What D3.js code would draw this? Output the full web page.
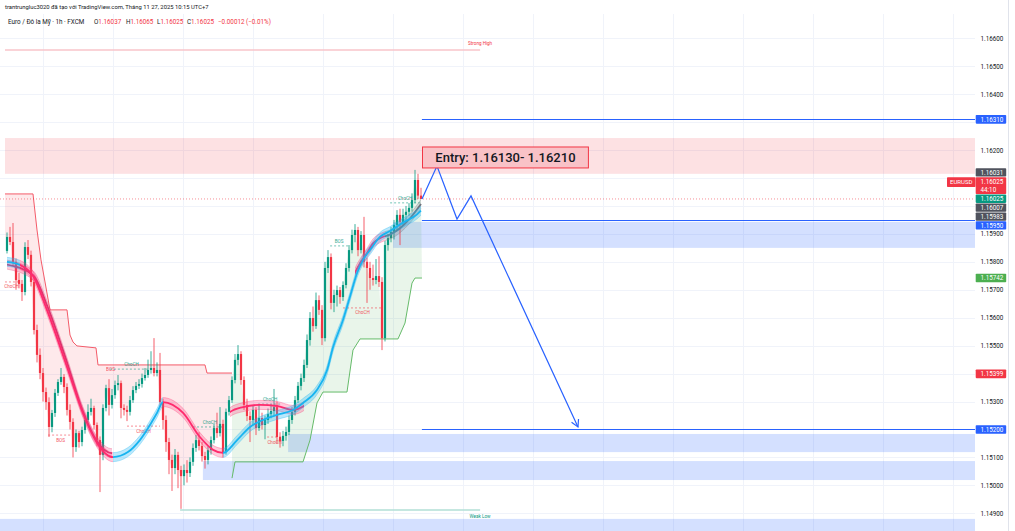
<!DOCTYPE html>
<html><head><meta charset="utf-8">
<script src="https://cdn.jsdelivr.net/npm/d3@7"></script>
<style>
body{margin:0;background:#fff;}
svg{display:block;font-family:Roboto,"Liberation Sans",Arial,sans-serif;}
text{white-space:pre;}
</style>
</head><body>
<svg id="c" width="1015" height="531"></svg>
<script>
// ---------------- DATA ----------------
const firstOpen = 1.15839;
const closes = [
1.15889,1.15871,1.15800,1.15735,1.15721,1.15692,1.15853,1.15825,1.15728,1.15556,
1.15467,1.15402,1.15334,1.15298,1.15209,1.15259,1.15331,1.15370,1.15388,1.15352,
1.15270,1.15227,1.15137,1.15187,1.15155,1.15198,1.15234,1.15263,1.15277,1.15216,
1.15162,1.15109,1.15277,1.15348,1.15288,1.15323,1.15359,1.15366,1.15277,1.15270,
1.15263,1.15305,1.15341,1.15356,1.15363,1.15384,1.15395,1.15413,1.15420,1.15402,
1.15413,1.15298,1.15234,1.15155,1.15091,1.15062,1.15109,1.15055,1.15033,1.15055,
1.15044,1.15084,1.15134,1.15162,1.15141,1.15105,1.15091,1.15126,1.15162,1.15205,
1.15187,1.15220,1.15119,1.15263,1.15305,1.15377,1.15449,1.15470,1.15377,1.15288,
1.15248,1.15234,1.15270,1.15205,1.15241,1.15216,1.15234,1.15255,1.15266,1.15280,
1.15173,1.15159,1.15177,1.15191,1.15234,1.15263,1.15305,1.15356,1.15384,1.15431,
1.15520,1.15599,1.15570,1.15663,1.15628,1.15527,1.15778,1.15817,1.15653,1.15681,
1.15699,1.15674,1.15717,1.15778,1.15842,1.15896,1.15914,1.15842,1.15896,1.15800,
1.15778,1.15742,1.15735,1.15749,1.15728,1.15527,1.15860,1.15885,1.15907,1.15932,
1.15968,1.15943,1.15968,1.15979,1.15993,1.16021,1.16093,1.16037,1.16025];
const highs = [
1.15905,1.15925,1.15939,1.15812,1.15760,1.15735,1.15870,1.15878,1.15840,1.15745,
1.15575,1.15490,1.15420,1.15350,1.15315,1.15270,1.15345,1.15380,1.15420,1.15398,
1.15365,1.15290,1.15240,1.15200,1.15195,1.15210,1.15250,1.15290,1.15310,1.15285,
1.15225,1.15175,1.15290,1.15360,1.15380,1.15345,1.15375,1.15395,1.15375,1.15290,
1.15285,1.15320,1.15355,1.15370,1.15380,1.15400,1.15420,1.15450,1.15480,1.15527,
1.15440,1.15474,1.15310,1.15250,1.15170,1.15110,1.15130,1.15120,1.15070,1.15075,
1.15090,1.15100,1.15150,1.15180,1.15190,1.15155,1.15120,1.15140,1.15175,1.15220,
1.15260,1.15280,1.15235,1.15275,1.15320,1.15390,1.15470,1.15502,1.15480,1.15390,
1.15310,1.15265,1.15285,1.15280,1.15290,1.15260,1.15250,1.15275,1.15290,1.15345,
1.15300,1.15190,1.15195,1.15210,1.15250,1.15280,1.15320,1.15370,1.15400,1.15450,
1.15540,1.15620,1.15640,1.15690,1.15680,1.15645,1.15800,1.15842,1.15830,1.15700,
1.15715,1.15710,1.15730,1.15795,1.15860,1.15915,1.15935,1.15925,1.15910,1.15961,
1.15815,1.15800,1.15790,1.15810,1.15820,1.15745,1.15875,1.15900,1.15925,1.15950,
1.15985,1.15990,1.15990,1.16000,1.16010,1.16045,1.16129,1.16115,1.16065];
const lows = [
1.15830,1.15860,1.15785,1.15700,1.15705,1.15660,1.15680,1.15810,1.15712,1.15540,
1.15440,1.15380,1.15300,1.15270,1.15173,1.15190,1.15245,1.15320,1.15360,1.15330,
1.15250,1.15200,1.15100,1.15120,1.15135,1.15140,1.15185,1.15225,1.15250,1.15200,
1.15140,1.14976,1.15090,1.15265,1.15250,1.15275,1.15310,1.15340,1.15240,1.15250,
1.15230,1.15250,1.15295,1.15330,1.15345,1.15350,1.15375,1.15385,1.15400,1.15390,
1.15390,1.15280,1.15200,1.15120,1.15040,1.14980,1.15040,1.14990,1.14916,1.15000,
1.15010,1.15030,1.15070,1.15120,1.15125,1.15085,1.15060,1.15075,1.15110,1.15150,
1.15170,1.15175,1.15100,1.15110,1.15250,1.15295,1.15365,1.15430,1.15360,1.15270,
1.15230,1.15155,1.15215,1.15180,1.15195,1.15200,1.15165,1.15220,1.15240,1.15250,
1.15150,1.15135,1.15140,1.15160,1.15180,1.15220,1.15250,1.15295,1.15340,1.15370,
1.15420,1.15500,1.15550,1.15560,1.15610,1.15502,1.15515,1.15760,1.15630,1.15620,
1.15640,1.15650,1.15660,1.15705,1.15765,1.15830,1.15870,1.15820,1.15830,1.15780,
1.15653,1.15700,1.15715,1.15720,1.15710,1.15484,1.15515,1.15840,1.15870,1.15880,
1.15910,1.15860,1.15930,1.15950,1.15965,1.15980,1.16010,1.16025,1.16025];

// moving-average ribbon A (bar index, price)
const maAIdx = [0,4.3,8.7,13.3,20,25.3,30,35.3,40.3,44.3,50,52,58.7,64.3,68.7,72,76.7,81,85.3,90,95.3,98.7,103.3,106.7,108.7,112,114.3,116.7,118.7,121,124.3,127.7,132,136.7,138];
const maAVal = [1.15800,1.15789,1.15749,1.15628,1.15424,1.15259,1.15152,1.15101,1.15119,1.15162,1.15259,1.15298,1.15259,1.15173,1.15127,1.15116,1.15162,1.15209,1.15234,1.15252,1.15270,1.15295,1.15341,1.15413,1.15495,1.15592,1.15674,1.15760,1.15807,1.15842,1.15889,1.15910,1.15940,1.15970,1.15983];
// moving-average ribbon B
const maBIdx = [0,8.7,13.3,20,25.3,30,35,45,52,60,68,74.3,78.7,84.3,90,95.3,98.7,103,108,112,116,118,120,122,125,127.7,131,134.3,138];
const maBVal = [1.15790,1.15752,1.15645,1.15440,1.15265,1.15158,1.15115,1.15170,1.15290,1.15250,1.15150,1.15262,1.15280,1.15288,1.15284,1.15270,1.15282,1.15330,1.15440,1.15590,1.15760,1.15800,1.15832,1.15866,1.15888,1.15898,1.15920,1.15955,1.16007];

// trailing stops
const redStopIdx = [-0.67,8.67,10,11.33,12.67,14.33,20,21,22,23.33,29.67,30.33,66,66.67,75];
const redStopVal = [1.16043,1.16043,1.15914,1.15807,1.15728,1.15628,1.15628,1.15538,1.15513,1.15499,1.15492,1.15431,1.15431,1.15402,1.15402];
const greenStopIdx = [75,76,98.67,101,103.33,105.33,113.33,115.33,117.67,130.33,132.67,135,136,138.33];
const greenStopVal = [1.15026,1.15084,1.15084,1.15162,1.15295,1.15334,1.15334,1.15484,1.15524,1.15524,1.15581,1.15724,1.15742,1.15742];

// zones [fromIdx, top, bottom]
const zoneFrom = [-0.67, 128.7, 93.7, 65.3, -2.5];
const zoneTop  = [1.16243, 1.15943, 1.15184, 1.15087, 1.14880];
const zoneBot  = [1.16115, 1.15850, 1.15119, 1.15019, 1.14700];
// horizontal levels
const levelVals = [1.16310, 1.15950, 1.15200];
const levelFrom = 138.3;
// projected path
const pathIdx = [138.33,143.33,150,154.67,190.33];
const pathVal = [1.16025,1.16143,1.15953,1.16036,1.15209];
const entryText = "Entry: 1.16130- 1.16210";
const entryIdx = [138.5, 193.8];
const entryVal = [1.16211, 1.16136];

// structure labels
const structText = ["ChoCH","BOS","BOS","ChoCH","ChoCH","ChoCH","ChoCH","ChoCH","BOS","ChoCH","ChoCH"];
const structFrom = [-0.67,13.7,34.5,34.3,40,62,83.7,86.7,107.7,112,127.7];
const structTo   = [3.7,22,34.5,48.7,51,73.3,91.7,91.7,113.7,125,137.7];
const structVal  = [1.15728,1.15180,1.15431,1.15416,1.15212,1.15209,1.15291,1.15173,1.15857,1.15635,1.16011];
const structBull = [false,false,false,true,false,true,true,false,true,false,true];

const strongHigh = 1.16558, weakLow = 1.14912;
const swingFrom = [-0.67, 57.7], swingTo = 157.7;

const axisTicks = [1.166,1.165,1.164,1.162,1.159,1.158,1.157,1.156,1.155,1.153,1.151,1.150,1.149];
const gridPrices = [1.149,1.150,1.151,1.152,1.153,1.154,1.155,1.156,1.157,1.158,1.159,1.160,1.161,1.162,1.163,1.164,1.165,1.166];
const gridIdx = [12,35.33,58.67,82,105.33,128.67,152,175.33,198.67,222,245.33,268.67,292,315.33];

const stackVals = [1.16031,1.16025,1.16025,1.16007,1.15983,1.15950];
const stackCountdown = "44:10";
const soloVals = [1.16310,1.15742,1.15399,1.15200];
const lastPrice = 1.16025;

const header1 = "trantrungluc3020 đã tạo với TradingView.com, Tháng 11 27, 2025 10:15 UTC+7";
const headerName = "Euro / Đô la Mỹ · 1h · FXCM";
const ohlcLabels = ["O","H","L","C"];
const ohlcValues = ["1.16037","1.16065","1.16025","1.16025"];
const changeText = "−0.00012 (−0.01%)";

// ---------------- STYLES / LAYOUT ----------------
const UP = "#089981", DN = "#f23645";
const stackColors = ["#50535e",DN,UP,"#50535e","#50535e","#2962ff"];
const soloColors = ["#2962ff","#4caf50",DN,"#2962ff"];
const zoneColors = ["rgba(242,54,69,0.15)","rgba(41,98,255,0.2)","rgba(41,98,255,0.2)","rgba(41,98,255,0.2)","rgba(41,98,255,0.2)"];
const ohlcX = [94,126,157,187], changeX = 218;

// ---------------- DRAW ----------------
const svg = d3.select("#c");
const x = d3.scaleLinear().domain([0,138]).range([7,421]);
const y = d3.scaleLinear().domain([1.149,1.166]).range([513.3,38.3]);
const PR = 975;

svg.append("rect").attr("width",1015).attr("height",531).attr("fill","#fff");
const defs = svg.append("defs");
defs.append("clipPath").attr("id","plot").append("rect").attr("x",0).attr("y",0).attr("width",PR).attr("height",531);
const plot = svg.append("g").attr("clip-path","url(#plot)");

// grid
plot.selectAll(".gh").data(gridPrices).enter().append("line")
  .attr("x1",0).attr("x2",PR).attr("y1",d=>Math.round(y(d))+0.5).attr("y2",d=>Math.round(y(d))+0.5)
  .attr("stroke","#f0f3fa").attr("stroke-width",1);
plot.selectAll(".gv").data(gridIdx).enter().append("line")
  .attr("x1",d=>Math.round(x(d))+0.5).attr("x2",d=>Math.round(x(d))+0.5).attr("y1",14).attr("y2",531)
  .attr("stroke","#f0f3fa").attr("stroke-width",1);

// zones
zoneTop.forEach((t,i)=>{
  plot.append("rect").attr("x",x(zoneFrom[i])).attr("width",PR-x(zoneFrom[i]))
    .attr("y",y(t)).attr("height",y(zoneBot[i])-y(t)).attr("fill",zoneColors[i]);
});

// trailing stop fills
const lineP = d3.line().x(d=>x(d[0])).y(d=>y(d[1]));
const redPts = redStopIdx.map((v,i)=>[v,redStopVal[i]]);
const redFill = redPts.concat(d3.range(75,-1,-1).map(i=>[i,closes[i]])).concat([[-0.67,closes[0]]]);
plot.append("path").attr("d",lineP(redFill)+"Z").attr("fill","rgba(242,54,69,0.11)");
const grPts = greenStopIdx.map((v,i)=>[v,greenStopVal[i]]);
const grFill = grPts.concat(d3.range(138,74,-1).map(i=>[i,closes[i]]));
plot.append("path").attr("d",lineP(grFill)+"Z").attr("fill","rgba(76,175,80,0.12)");
plot.append("path").attr("d",lineP(redPts)).attr("fill","none").attr("stroke","#f45b69").attr("stroke-width",1);
plot.append("path").attr("d",lineP(grPts)).attr("fill","none").attr("stroke","#66bb6a").attr("stroke-width",1);

// strong high / weak low
plot.append("line").attr("x1",x(swingFrom[0])).attr("x2",x(swingTo)).attr("y1",y(strongHigh)).attr("y2",y(strongHigh))
  .attr("stroke","#f9c5ca").attr("stroke-width",1.5);
plot.append("text").attr("x",x(swingTo)).attr("y",y(strongHigh)-5).attr("text-anchor","middle")
  .attr("font-size",4.6).attr("fill","#f23645").text("Strong High");
plot.append("line").attr("x1",x(swingFrom[1])).attr("x2",x(swingTo)).attr("y1",y(weakLow)).attr("y2",y(weakLow))
  .attr("stroke","#b2dfd6").attr("stroke-width",1.5);
plot.append("text").attr("x",x(swingTo)).attr("y",y(weakLow)+8).attr("text-anchor","middle")
  .attr("font-size",4.6).attr("fill","#089981").text("Weak Low");

// structure labels
structText.forEach((t,i)=>{
  const c = structBull[i] ? "#089981" : "#f23645";
  const yy = y(structVal[i]);
  if (structTo[i]>structFrom[i])
    plot.append("line").attr("x1",x(structFrom[i])).attr("x2",x(structTo[i])).attr("y1",yy).attr("y2",yy)
      .attr("stroke",c).attr("stroke-width",0.8).attr("stroke-dasharray","2,2").attr("opacity",0.7);
  plot.append("text").attr("x",(x(structFrom[i])+x(structTo[i]))/2)
    .attr("y",structBull[i]? yy-3 : yy+6.5).attr("text-anchor","middle")
    .attr("font-size",4.6).attr("fill",c).attr("opacity",0.85).text(t);
});

// candles
const cg = plot.append("g");
closes.forEach((c,i)=>{
  const o = i===0 ? firstOpen : closes[i-1];
  const col = c>=o ? UP : DN;
  const xc = x(i);
  cg.append("line").attr("x1",xc).attr("x2",xc).attr("y1",y(highs[i])).attr("y2",y(lows[i]))
    .attr("stroke",col).attr("stroke-width",0.8);
  const top = y(Math.max(o,c)), bot = y(Math.min(o,c));
  cg.append("rect").attr("x",xc-1.1).attr("width",2.2).attr("y",top).attr("height",Math.max(0.8,bot-top)).attr("fill",col);
});

// ribbons
let clipN = 0;
function ribbon(idx, val, segs, half){
  const pts = idx.map((v,i)=>[v,val[i]]);
  const area = d3.area().x(d=>x(d[0])).y0(d=>y(d[1])-half).y1(d=>y(d[1])+half).curve(d3.curveMonotoneX);
  const ln = d3.line().x(d=>x(d[0])).y(d=>y(d[1])).curve(d3.curveMonotoneX);
  const up = d3.line().x(d=>x(d[0])).y(d=>y(d[1])-half).curve(d3.curveMonotoneX);
  const dn = d3.line().x(d=>x(d[0])).y(d=>y(d[1])+half).curve(d3.curveMonotoneX);
  segs.forEach(s=>{
    const id = "rb"+(clipN++);
    defs.append("clipPath").attr("id",id).append("rect").attr("x",x(s[0])).attr("width",x(s[1])-x(s[0])).attr("y",0).attr("height",531);
    const g = plot.append("g").attr("clip-path",`url(#${id})`);
    g.append("path").attr("d",area(pts)).attr("fill",s[2]);
    g.append("path").attr("d",up(pts)).attr("fill","none").attr("stroke",s[3]).attr("stroke-width",0.6).attr("opacity",0.5);
    g.append("path").attr("d",dn(pts)).attr("fill","none").attr("stroke",s[3]).attr("stroke-width",0.6).attr("opacity",0.5);
    g.append("path").attr("d",ln(pts)).attr("fill","none").attr("stroke",s[3]).attr("stroke-width",1.8);
  });
}
const CYb="rgba(41,182,246,0.32)", CYl="#18b4f0", PKb="rgba(255,64,129,0.28)", PKl="#ff2a6d", GYb="rgba(120,123,134,0.25)", GYl="#6f727c";
ribbon(maBIdx, maBVal, [[0,35,PKb,"#d6336c"],[74.3,99,PKb,PKl],[116,126,PKb,PKl],[126,138.3,GYb,GYl]], 4.5);
ribbon(maAIdx, maAVal, [[-1,4.3,CYb,CYl],[4.3,35.3,PKb,PKl],[35.3,52,CYb,CYl],[52,72,PKb,PKl],[72,138.3,CYb,CYl]], 4.5);

// last price dotted line
plot.append("line").attr("x1",0).attr("x2",PR).attr("y1",y(lastPrice)).attr("y2",y(lastPrice))
  .attr("stroke","#f23645").attr("stroke-width",1).attr("stroke-dasharray","1,2").attr("opacity",0.55);

// levels
levelVals.forEach(v=>{
  plot.append("line").attr("x1",x(levelFrom)).attr("x2",PR).attr("y1",Math.round(y(v))+0.5).attr("y2",Math.round(y(v))+0.5)
    .attr("stroke","#2962ff").attr("stroke-width",1.2);
});

// projected path with arrow
const pp = pathIdx.map((v,i)=>[x(v),y(pathVal[i])]);
plot.append("path").attr("d",d3.line()(pp)).attr("fill","none").attr("stroke","#2962ff").attr("stroke-width",1.2);
{
  const a = pp[pp.length-2], b = pp[pp.length-1];
  const ang = Math.atan2(b[1]-a[1], b[0]-a[0]);
  const L = 8, w = 0.5;
  const h1 = [b[0]-L*Math.cos(ang-w), b[1]-L*Math.sin(ang-w)];
  const h2 = [b[0]-L*Math.cos(ang+w), b[1]-L*Math.sin(ang+w)];
  plot.append("path").attr("d",d3.line()([h1,b,h2])).attr("fill","none").attr("stroke","#2962ff").attr("stroke-width",1.2);
}

// entry box
plot.append("rect").attr("x",x(entryIdx[0])).attr("y",y(entryVal[0])).attr("width",x(entryIdx[1])-x(entryIdx[0]))
  .attr("height",y(entryVal[1])-y(entryVal[0])).attr("fill","#f9c2c7").attr("stroke","#f23645").attr("stroke-width",1);
plot.append("text").attr("x",(x(entryIdx[0])+x(entryIdx[1]))/2).attr("y",(y(entryVal[0])+y(entryVal[1]))/2+4.5)
  .attr("text-anchor","middle").attr("font-size",13).attr("font-weight",500).attr("fill","#131722").text(entryText);

// right border
svg.append("line").attr("x1",1008.5).attr("x2",1008.5).attr("y1",0).attr("y2",531).attr("stroke","#e0e3eb");

// axis
const ax = svg.append("g").attr("transform","translate(978,0)")
  .call(d3.axisRight(y).tickValues(axisTicks).tickSize(0).tickPadding(2.5).tickFormat(d3.format(".5f")));
ax.select(".domain").remove();
ax.selectAll("text").attr("font-size",6.3).attr("fill","#131722").attr("font-family","Roboto,'Liberation Sans',sans-serif");

function badge(yc, h, col, label, sub){
  svg.append("rect").attr("x",975.7).attr("y",yc-h/2).attr("width",30.5).attr("height",h).attr("fill",col).attr("rx",0.8);
  if(!sub){
    svg.append("text").attr("x",980.5).attr("y",yc+2.2).attr("font-size",6.3).attr("fill","#fff").text(label);
  } else {
    svg.append("text").attr("x",980.5).attr("y",yc-h/4+2.2).attr("font-size",6.3).attr("fill","#fff").text(label);
    svg.append("text").attr("x",980.5).attr("y",yc+h/4+2.2).attr("font-size",6.3).attr("fill","#fff").text(sub);
  }
}
soloVals.forEach((v,i)=>badge(y(v),8.6,soloColors[i],d3.format(".5f")(v)));
{
  const hs = stackVals.map((v,i)=> i===1 ? 16.8 : 8.3);
  const gap = 0.6;
  const total = d3.sum(hs) + gap*(hs.length-1);
  let top = y(lastPrice) - total/2;
  stackVals.forEach((v,i)=>{
    badge(top+hs[i]/2, hs[i], stackColors[i], d3.format(".5f")(v), i===1 ? stackCountdown : null);
    if(i===1){
      svg.append("rect").attr("x",947).attr("y",top).attr("width",28.5).attr("height",hs[i]/2+1.5).attr("fill",DN).attr("rx",0.8);
      svg.append("text").attr("x",961.2).attr("y",top+hs[i]/4+2.6).attr("text-anchor","middle").attr("font-size",6).attr("fill","#fff").text("EURUSD");
    }
    top += hs[i] + gap;
  });
}

// header
svg.append("text").attr("x",5).attr("y",9.3).attr("font-size",5.85).attr("fill","#131722").text(header1);
svg.append("text").attr("x",8).attr("y",24.3).attr("font-size",6.3).attr("fill","#131722").text(headerName);
ohlcLabels.forEach((l,i)=>{
  const t = svg.append("text").attr("x",ohlcX[i]).attr("y",24.3).attr("font-size",6.3);
  t.append("tspan").attr("fill","#131722").text(l);
  t.append("tspan").attr("fill",DN).text(ohlcValues[i]);
});
svg.append("text").attr("x",changeX).attr("y",24.3).attr("font-size",6.3).attr("fill",DN).text(changeText);
</script>
</body></html>
